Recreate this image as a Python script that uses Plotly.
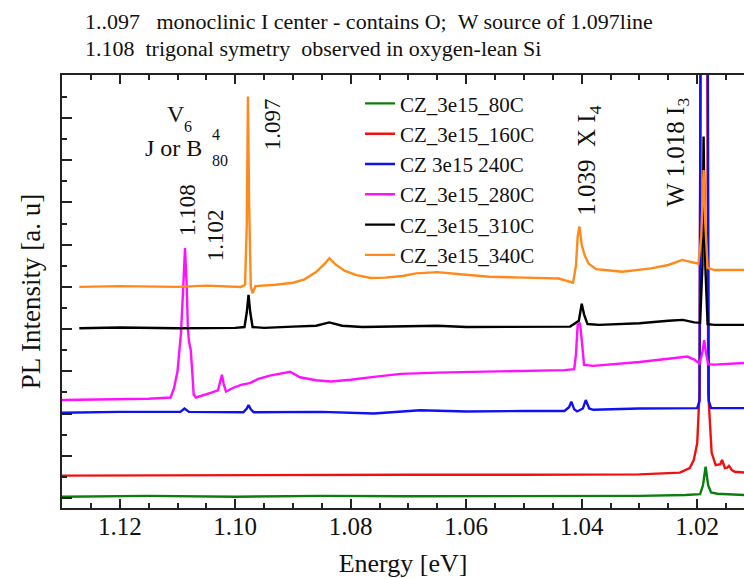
import plotly.graph_objects as go

SERIF = "Liberation Serif"

# Photoluminescence spectra of CZ Si (3e15) after anneals at several temperatures.
# Energies in eV, intensities in arbitrary units (curves vertically offset).
e_80c = [1.1305, 1.1150, 1.1000, 1.0850, 1.0700, 1.0550, 1.0400, 1.0300, 1.0220,
         1.0195, 1.0190, 1.01855, 1.0181, 1.0176, 1.0165, 1.0140, 1.0115]
i_80c = [0.03, 0.05, 0.03, 0.05, 0.04, 0.04, 0.05, 0.05, 0.07,
         0.09, 0.30, 0.74, 0.30, 0.13, 0.10, 0.08, 0.07]

e_160c = [1.1305, 1.1100, 1.0900, 1.0700, 1.0500, 1.0300, 1.0230, 1.0213, 1.0206,
          1.0200, 1.0196, 1.0188, 1.0181, 1.0177, 1.0175, 1.0168, 1.0160, 1.0157,
          1.0152, 1.0148, 1.0145, 1.0140, 1.0135, 1.0115]
i_160c = [0.53, 0.54, 0.54, 0.55, 0.55, 0.56, 0.60, 0.71, 0.90,
          1.30, 2.50, 40.0, 2.50, 1.30, 1.07, 0.78, 0.80, 0.90,
          0.71, 0.72, 0.76, 0.66, 0.62, 0.60]

e_240c = [1.1305, 1.1200, 1.1095, 1.1088, 1.1080, 1.0986, 1.0980, 1.0977, 1.0973,
          1.0968, 1.0850, 1.0760, 1.0680, 1.0600, 1.0500, 1.0430, 1.0422, 1.0418,
          1.0413, 1.0408, 1.0398, 1.0393, 1.0387, 1.0380, 1.0300, 1.0200, 1.0196,
          1.0188, 1.0180, 1.0176, 1.0150, 1.0115]
i_240c = [2.02, 2.04, 2.04, 2.12, 2.04, 2.03, 2.12, 2.20, 2.10,
          2.03, 2.04, 2.00, 2.08, 2.05, 2.06, 2.06, 2.15, 2.28,
          2.10, 2.05, 2.12, 2.32, 2.12, 2.09, 2.12, 2.13, 2.30,
          40.0, 2.30, 2.13, 2.13, 2.13]

e_280c = [1.1305, 1.1250, 1.1200, 1.1150, 1.1112, 1.1106, 1.1100, 1.1094, 1.1090,
          1.1087, 1.1084, 1.1082, 1.1080, 1.1077, 1.1074, 1.1072, 1.1068, 1.1055,
          1.1040, 1.1030, 1.1026, 1.1023, 1.1020, 1.1016, 1.1005, 1.0990, 1.0975,
          1.0960, 1.0940, 1.0920, 1.0905, 1.0888, 1.0860, 1.0835, 1.0800, 1.0760,
          1.0713, 1.0650, 1.0600, 1.0540, 1.0480, 1.0430, 1.0413, 1.0410, 1.0407,
          1.0403, 1.0399, 1.0396, 1.0380, 1.0360, 1.0300, 1.0250, 1.0217, 1.0205,
          1.0196, 1.0191, 1.0188, 1.0185, 1.0181, 1.0170, 1.0150, 1.0115]
i_280c = [2.32, 2.33, 2.35, 2.35, 2.38, 2.60, 3.00, 3.90, 5.00,
          5.92, 5.00, 4.00, 3.70, 3.50, 2.90, 2.45, 2.38, 2.43,
          2.50, 2.55, 2.75, 2.92, 2.70, 2.52, 2.60, 2.68, 2.72,
          2.82, 2.90, 2.95, 2.99, 2.86, 2.79, 2.76, 2.80, 2.87,
          2.94, 2.97, 2.98, 2.99, 3.01, 3.03, 3.05, 3.40, 4.10,
          4.15, 3.60, 3.15, 3.13, 3.15, 3.22, 3.30, 3.35, 3.28,
          3.18, 3.45, 3.74, 3.45, 3.17, 3.16, 3.18, 3.20]

e_310c = [1.1270, 1.1200, 1.1100, 1.1000, 1.0984, 1.0980, 1.0977, 1.0974, 1.0970,
          1.0950, 1.0900, 1.0860, 1.0837, 1.0815, 1.0780, 1.0700, 1.0650, 1.0600,
          1.0500, 1.0420, 1.0405, 1.0400, 1.0396, 1.0390, 1.0370, 1.0300, 1.0250,
          1.0225, 1.0205, 1.0195, 1.0191, 1.0189, 1.0186, 1.0182, 1.0170, 1.0115]
i_310c = [4.02, 4.04, 4.02, 4.03, 4.05, 4.40, 4.81, 4.40, 4.05,
          4.03, 4.06, 4.08, 4.16, 4.08, 4.05, 4.06, 4.08, 4.05,
          4.06, 4.06, 4.20, 4.60, 4.35, 4.12, 4.10, 4.14, 4.20,
          4.22, 4.16, 4.15, 5.50, 8.56, 5.50, 4.12, 4.10, 4.10]

e_340c = [1.1270, 1.1200, 1.1100, 1.1050, 1.0990, 1.0983, 1.0980, 1.0978, 1.0976,
          1.0973, 1.0970, 1.0965, 1.0930, 1.0900, 1.0880, 1.0860, 1.0845, 1.0837,
          1.0828, 1.0810, 1.0790, 1.0765, 1.0740, 1.0710, 1.0687, 1.0650, 1.0610,
          1.0560, 1.0500, 1.0440, 1.0415, 1.0410, 1.0407, 1.0404, 1.0400, 1.0395,
          1.0388, 1.0375, 1.0360, 1.0330, 1.0280, 1.0250, 1.0226, 1.0210, 1.0198,
          1.0193, 1.0189, 1.0186, 1.0182, 1.0170, 1.0115]
i_340c = [5.00, 5.02, 5.00, 5.03, 5.00, 5.05, 6.50, 9.51, 7.00,
          5.00, 4.85, 5.02, 5.05, 5.10, 5.18, 5.35, 5.55, 5.68,
          5.55, 5.38, 5.28, 5.21, 5.22, 5.26, 5.32, 5.35, 5.30,
          5.24, 5.22, 5.20, 5.10, 5.50, 6.20, 6.43, 6.00, 5.75,
          5.55, 5.42, 5.40, 5.36, 5.44, 5.52, 5.64, 5.58, 5.55,
          6.20, 7.77, 6.50, 5.45, 5.40, 5.40]

labels = ["CZ_3e15_80C", "CZ_3e15_160C", "CZ 3e15 240C",
          "CZ_3e15_280C", "CZ_3e15_310C", "CZ_3e15_340C"]
energies = [e_80c, e_160c, e_240c, e_280c, e_310c, e_340c]
intensities = [i_80c, i_160c, i_240c, i_280c, i_310c, i_340c]
colors = ["#0b7f0b", "#f01010", "#1010f0", "#ff10ff", "#000000", "#ff8a1c"]

fig = go.Figure()
for name, e, i, c in zip(labels, energies, intensities, colors):
    fig.add_trace(go.Scatter(x=e, y=i, mode="lines", name=name,
                             line=dict(color=c, width=2.4)))

AXIS = "#222222"
INK = "#111111"

fig.update_xaxes(
    range=[1.1300, 1.0119], tickmode="linear", tick0=1.0, dtick=0.02,
    tickformat=".2f", ticks="inside", ticklen=9, tickwidth=1.5, tickcolor=AXIS,
    minor=dict(ticks="inside", dtick=0.005, tick0=1.0, ticklen=5,
               tickwidth=1.5, tickcolor=AXIS),
    showline=True, linecolor=AXIS, linewidth=1.5, mirror="ticks",
    showgrid=False, zeroline=False, ticklabelstandoff=-5,
    tickfont=dict(family=SERIF, size=25, color=INK),
    title=dict(text="Energy [eV]", font=dict(family=SERIF, size=26, color=INK),
               standoff=17),
)
fig.update_yaxes(
    range=[-0.237, 10.02], tickmode="linear", tick0=0, dtick=1,
    ticks="inside", ticklen=10, tickwidth=1.5, tickcolor=AXIS,
    minor=dict(ticks="inside", dtick=0.5, tick0=0, ticklen=5,
               tickwidth=1.5, tickcolor=AXIS),
    showticklabels=False, showline=True, linecolor=AXIS, linewidth=1.5,
    mirror=False, showgrid=False, zeroline=False,
    title=dict(text="PL Intensity [a. u]", font=dict(family=SERIF, size=27, color=INK),
               standoff=12),
)

notes = [
    # (text, energy, intensity, font size, angle)
    ("V", 1.11030, 9.10, 24, 0),
    ("6", 1.10815, 8.80, 16, 0),
    ("J or B", 1.11068, 8.30, 24, 0),
    ("4", 1.10329, 8.60, 16, 0),
    ("80", 1.10260, 7.99, 16, 0),
    ("1.108", 1.10836, 6.82, 23, -90),
    ("1.102", 1.10346, 6.23, 23, -90),
    ("1.097", 1.09342, 8.86, 23, -90),
    ("1.039\u00a0\u00a0X I<sub>4</sub>", 1.03874, 7.99, 25, -90),
    ("W 1.018 I<sub>3</sub>", 1.02333, 8.20, 25, -90),
]
for text, x, y, size, ang in notes:
    fig.add_annotation(x=x, y=y, xref="x", yref="y", text=text, showarrow=False,
                       textangle=ang, xanchor="center", yanchor="middle",
                       font=dict(family=SERIF, size=size, color=INK))

header = [
    ("1..097\u00a0\u00a0\u00a0monoclinic I center - contains O;\u00a0\u00a0W source of 1.097line", 1.1247),
    ("1.108\u00a0\u00a0trigonal symetry\u00a0\u00a0observed in oxygen-lean Si", 1.0612),
]
for text, y in header:
    fig.add_annotation(x=0.0308, y=y, xref="paper", yref="paper", text=text,
                       showarrow=False, xanchor="left", yanchor="middle",
                       font=dict(family=SERIF, size=22, color=INK))

fig.update_layout(
    width=744, height=578, autosize=False,
    margin=dict(l=62, r=0, t=75, b=70),
    paper_bgcolor="white", plot_bgcolor="white",
    showlegend=True,
    legend=dict(x=0.437, y=0.981, xanchor="left", yanchor="top",
                bgcolor="rgba(0,0,0,0)", borderwidth=0,
                font=dict(family=SERIF, size=21, color=INK),
                tracegroupgap=0),
)

fig.write_html("out.html")
